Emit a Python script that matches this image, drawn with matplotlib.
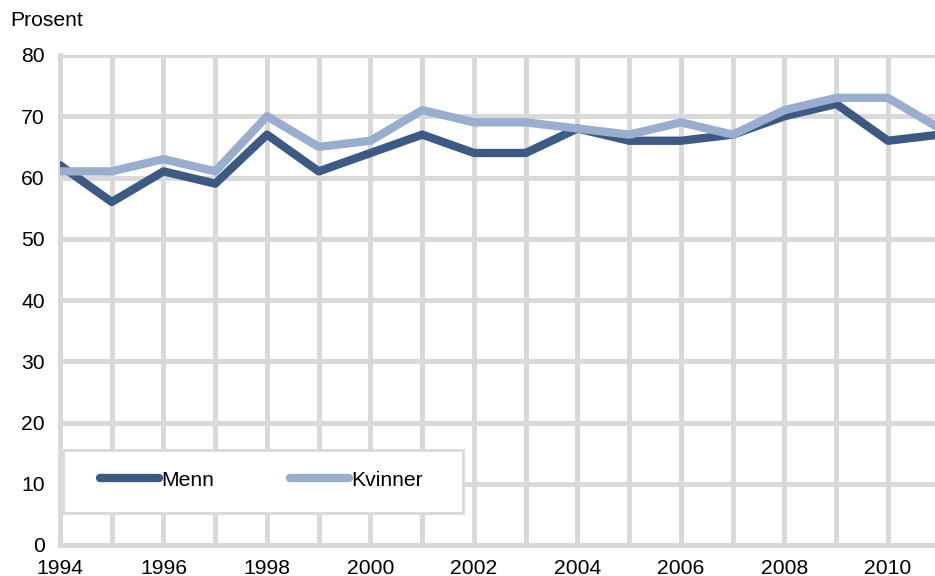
import numpy as np
import matplotlib.pyplot as plt
from matplotlib.ticker import MultipleLocator
from matplotlib.patches import Rectangle

# data
aar = np.arange(1994, 2012)
menn = [62, 56, 61, 59, 67, 61, 64, 67, 64, 64, 68, 66, 66, 67, 70, 72, 66, 67]
kvinner = [61, 61, 63, 61, 70, 65, 66, 71, 69, 69, 68, 67, 69, 67, 71, 73, 73, 68]

farge_menn = "#3d5a84"
farge_kvinner = "#98add0"
grid_farge = "#d9d9d9"

plt.rcParams["font.family"] = ["Liberation Sans", "DejaVu Sans"]
fs = 15.2

fig = plt.figure(figsize=(9.35, 5.76), dpi=100)
ax = fig.add_axes([60 / 935, 31 / 576, 875 / 935, 490 / 576])

ax.plot(aar, menn, color=farge_menn, lw=6, label="Menn", solid_capstyle="round", zorder=3)
ax.plot(aar, kvinner, color=farge_kvinner, lw=6, label="Kvinner", solid_capstyle="round", zorder=3)

ax.set_xlim(1994, 1994 + 875 / 51.75)
ax.set_ylim(0, 80)
ax.xaxis.set_major_locator(MultipleLocator(2))
ax.xaxis.set_minor_locator(MultipleLocator(1))
ax.yaxis.set_major_locator(MultipleLocator(10))
ax.grid(True, which="both", color=grid_farge, lw=3.6)
ax.set_axisbelow(True)

for s in ["top", "right"]:
    ax.spines[s].set_visible(False)
for s in ["left", "bottom"]:
    ax.spines[s].set_color(grid_farge)
    ax.spines[s].set_linewidth(3.6)

ax.tick_params(which="both", length=0, labelsize=fs)
ax.tick_params(axis="y", pad=11)
ax.tick_params(axis="x", pad=10)

# legend box
ax.add_patch(Rectangle((0.0034, 0.065), 0.457, 0.129, transform=ax.transAxes,
                       facecolor="white", edgecolor=grid_farge, lw=2, zorder=4))
leg = ax.legend(loc="center left", bbox_to_anchor=(0.0457, 0.132), ncol=2,
                fontsize=fs, frameon=False, handlelength=2.8, handletextpad=0.1,
                columnspacing=3.6, borderpad=0, borderaxespad=0)
leg.set_zorder(5)

fig.text(10 / 935, 1 - 20 / 576, "Prosent", fontsize=fs, va="center", ha="left")

fig.savefig("out.png", dpi=100)
